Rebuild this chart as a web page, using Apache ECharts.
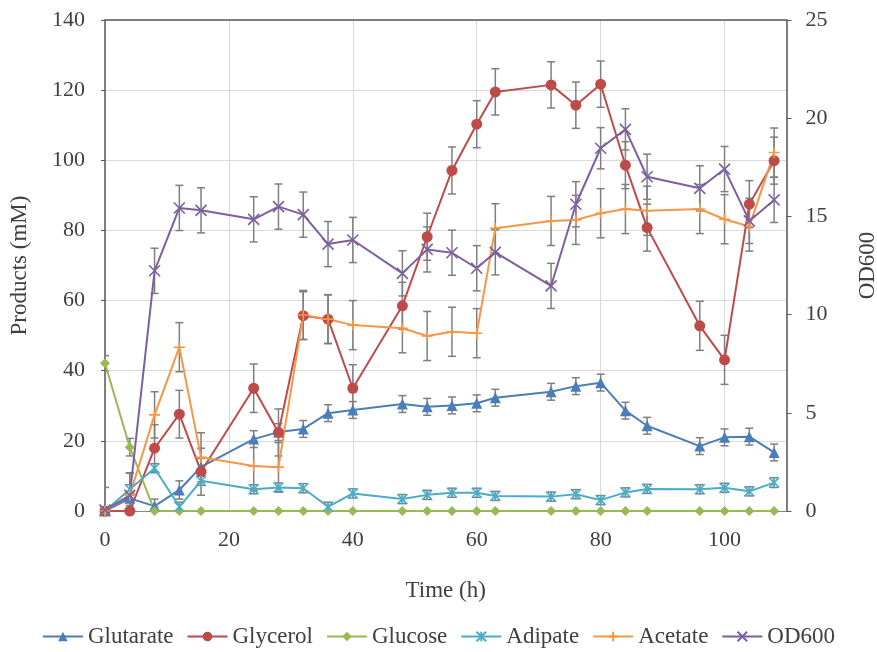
<!DOCTYPE html>
<html>
<head>
<meta charset="utf-8">
<script src="https://cdn.jsdelivr.net/npm/echarts@6/dist/echarts.min.js"></script>
<style>html,body{margin:0;padding:0;background:#fff;}#c{width:877px;height:652px;}</style>
</head>
<body>
<div id="c"></div>
<script>
// ---- data ----
const times = [0, 4, 8, 12, 15.5, 24, 28, 32, 36, 40, 48, 52, 56, 60, 63, 72, 76, 80, 84, 87.5, 96, 100, 104, 108];
const glutarate = [0, 3.6, 1.4, 6.0, 12.6, 20.5, 22.5, 23.4, 27.9, 28.8, 30.5, 29.7, 30.1, 30.7, 32.3, 34.0, 35.6, 36.6, 28.6, 24.3, 18.5, 21.0, 21.2, 16.7];
const glutarateErr = [0, 2.0, 2.0, 2.6, 2.4, 2.4, 2.4, 2.4, 2.4, 2.4, 2.4, 2.4, 2.4, 2.4, 2.4, 2.4, 2.4, 2.4, 2.4, 2.4, 2.4, 2.4, 2.4, 2.4];
const glycerol = [0, 0, 17.9, 27.6, 11.2, 35.0, 22.4, 55.7, 54.7, 35.0, 58.5, 78.2, 97.1, 110.3, 119.5, 121.5, 115.7, 121.7, 98.6, 80.8, 52.8, 43.1, 87.5, 99.9];
const glycerolErr = [0, 0, 6.7, 6.8, 6.7, 6.9, 6.7, 6.8, 6.9, 6.7, 6.7, 6.7, 6.7, 6.7, 6.6, 6.6, 6.6, 6.6, 6.7, 6.7, 7.0, 7.0, 6.7, 6.7];
const glucose = [42.1, 18.2, 0, 0, 0, 0, 0, 0, 0, 0, 0, 0, 0, 0, 0, 0, 0, 0, 0, 0, 0, 0, 0, 0];
const glucoseErr = [2.2, 2.5, 0, 0, 0, 0, 0, 0, 0, 0, 0, 0, 0, 0, 0, 0, 0, 0, 0, 0, 0, 0, 0, 0];
const adipate = [0, 6.2, 12.2, 1.2, 8.6, 6.2, 6.7, 6.5, 1.2, 5.0, 3.4, 4.6, 5.2, 5.2, 4.3, 4.1, 4.8, 3.1, 5.3, 6.3, 6.2, 6.6, 5.6, 8.1];
const adipateErr = [0, 1.3, 1.3, 1.3, 1.3, 1.3, 1.3, 1.3, 1.3, 1.3, 1.3, 1.3, 1.3, 1.3, 1.3, 1.3, 1.3, 1.3, 1.3, 1.3, 1.3, 1.3, 1.3, 1.4];
const acetate = [0, 4.5, 27.4, 46.7, 15.3, 12.8, 12.5, 55.9, 54.7, 53.0, 52.1, 49.9, 51.1, 50.7, 80.6, 82.7, 83.0, 84.9, 86.1, 85.6, 86.1, 83.2, 81.1, 102.2];
const acetateErr = [0, 6.3, 6.6, 7.0, 7.0, 7.0, 7.0, 7.0, 7.0, 7.0, 7.0, 7.0, 7.0, 7.0, 7.0, 7.0, 7.0, 7.0, 7.0, 7.0, 7.0, 7.0, 7.0, 7.0];
const od600 = [0.05, 0.8, 12.23, 15.43, 15.31, 14.85, 15.5, 15.09, 13.59, 13.8, 12.1, 13.32, 13.15, 12.36, 13.17, 11.46, 15.62, 18.47, 19.43, 17.02, 16.43, 17.41, 14.77, 15.84];
const od600Err = [1.15, 1.15, 1.15, 1.15, 1.15, 1.15, 1.15, 1.15, 1.15, 1.15, 1.15, 1.15, 1.15, 1.15, 1.15, 1.15, 1.15, 1.05, 1.05, 1.15, 1.15, 1.15, 1.15, 1.15];
const leftTicks = {min: 0, max: 140, interval: 20};
const rightTicks = {min: 0, max: 25, interval: 5};
const xTicks = {min: 0, max: 110, interval: 20};

// ---- styling ----
const FONT = '"Liberation Serif", "Times New Roman", serif';
const TXT = '#404040';
const C = {glu: '#4a7ebb', gly: '#be4b48', glc: '#98b954', adi: '#4bacc6', ace: '#f79646', od: '#7d5fa0'};

const SYM_X = 'path://M0,0L10,10M10,0L0,10';
const SYM_AST = 'path://M0,0L10,10M10,0L0,10M5,0L5,10';
const SYM_PLUS = 'path://M0,5L10,5M5,0L5,10';

function pts(vals) { return times.map((t, i) => [t, vals[i]]); }

function lineSeries(name, vals, color, symbol, size, yAxisIndex, stroke) {
  return {
    name, type: 'line', data: pts(vals), yAxisIndex: yAxisIndex || 0, z: 3,
    symbol, symbolSize: size, showSymbol: true,
    lineStyle: {color, width: 2},
    itemStyle: stroke ? {color: 'rgba(0,0,0,0)', borderColor: color, borderWidth: 1.6} : {color, borderWidth: 0},
    emphasis: {disabled: true},
    animation: false
  };
}

function errSeries(vals, errs, yAxisIndex) {
  return {
    type: 'custom', yAxisIndex: yAxisIndex || 0, z: 1, silent: true, clip: true, animation: false,
    data: times.map((t, i) => [t, vals[i], errs[i]]),
    encode: {x: 0, y: 1},
    renderItem: function (params, api) {
      const x = api.value(0), y = api.value(1), e = api.value(2);
      if (!e) return null;
      const hi = api.coord([x, y + e]);
      const lo = api.coord([x, y - e]);
      const cw = 4;
      const st = {stroke: '#7f7f7f', lineWidth: 1.5};
      return {
        type: 'group', children: [
          {type: 'line', shape: {x1: hi[0], y1: hi[1], x2: lo[0], y2: lo[1]}, style: st},
          {type: 'line', shape: {x1: hi[0] - cw, y1: hi[1], x2: hi[0] + cw, y2: hi[1]}, style: st},
          {type: 'line', shape: {x1: lo[0] - cw, y1: lo[1], x2: lo[0] + cw, y2: lo[1]}, style: st}
        ]
      };
    }
  };
}

const chart = echarts.init(document.getElementById('c'), null, {renderer: 'canvas'});
chart.setOption({
  backgroundColor: '#fff',
  animation: false,
  textStyle: {fontFamily: FONT, color: TXT},
  grid: {left: 105, top: 20, width: 681.5, height: 491, containLabel: false, outerBoundsMode: 'none'},
  legend: {
    data: ['Glutarate', 'Glycerol', 'Glucose', 'Adipate', 'Acetate', 'OD600'],
    left: 'center', top: 620, itemWidth: 40, itemHeight: 12, itemGap: 13,
    textStyle: {fontFamily: FONT, fontSize: 23, color: TXT},
    selectedMode: false
  },
  xAxis: [{
    type: 'value', min: xTicks.min, max: xTicks.max, interval: xTicks.interval,
    name: 'Time (h)', nameLocation: 'middle', nameGap: 68,
    nameTextStyle: {fontFamily: FONT, fontSize: 23, color: TXT},
    axisLine: {show: true, onZero: false, lineStyle: {color: '#868686', width: 1}},
    axisTick: {show: false},
    axisLabel: {fontFamily: FONT, fontSize: 22, color: TXT, margin: 18, showMaxLabel: false},
    splitLine: {show: true, lineStyle: {color: '#d9d9d9', width: 1}}
  }, {
    type: 'value', position: 'top', min: xTicks.min, max: xTicks.max,
    axisLine: {show: true, onZero: false, lineStyle: {color: '#595959', width: 1.5}},
    axisTick: {show: false}, axisLabel: {show: false}, splitLine: {show: false}
  }],
  yAxis: [{
    type: 'value', min: leftTicks.min, max: leftTicks.max, interval: leftTicks.interval, position: 'left',
    name: 'Products (mM)', nameLocation: 'middle', nameGap: 74, nameRotate: 90,
    nameTextStyle: {fontFamily: FONT, fontSize: 23, color: TXT},
    axisLine: {show: true, onZero: false, lineStyle: {color: '#595959', width: 1.5}},
    axisTick: {show: true, length: 4, lineStyle: {color: '#595959'}},
    axisLabel: {fontFamily: FONT, fontSize: 22, color: TXT, margin: 20},
    splitLine: {show: true, lineStyle: {color: '#d9d9d9', width: 1}}
  }, {
    type: 'value', min: rightTicks.min, max: rightTicks.max, interval: rightTicks.interval, position: 'right',
    name: 'OD600', nameLocation: 'middle', nameGap: 70, nameRotate: 90,
    nameTextStyle: {fontFamily: FONT, fontSize: 23, color: TXT},
    axisLine: {show: true, onZero: false, lineStyle: {color: '#595959', width: 1.5}},
    axisTick: {show: true, length: 5, lineStyle: {color: '#595959'}},
    axisLabel: {fontFamily: FONT, fontSize: 22, color: TXT, margin: 19},
    splitLine: {show: false}
  }],
  series: [
    errSeries(glutarate, glutarateErr, 0),
    errSeries(glycerol, glycerolErr, 0),
    errSeries(glucose, glucoseErr, 0),
    errSeries(adipate, adipateErr, 0),
    errSeries(acetate, acetateErr, 0),
    errSeries(od600, od600Err, 1),
    lineSeries('Glutarate', glutarate, C.glu, 'triangle', 11, 0, false),
    lineSeries('Glycerol', glycerol, C.gly, 'circle', 11, 0, false),
    lineSeries('Glucose', glucose, C.glc, 'diamond', 10, 0, false),
    lineSeries('Adipate', adipate, C.adi, SYM_AST, 10, 0, true),
    lineSeries('Acetate', acetate, C.ace, SYM_PLUS, 11, 0, true),
    lineSeries('OD600', od600, C.od, SYM_X, 11, 1, true)
  ]
});
</script>
</body>
</html>
